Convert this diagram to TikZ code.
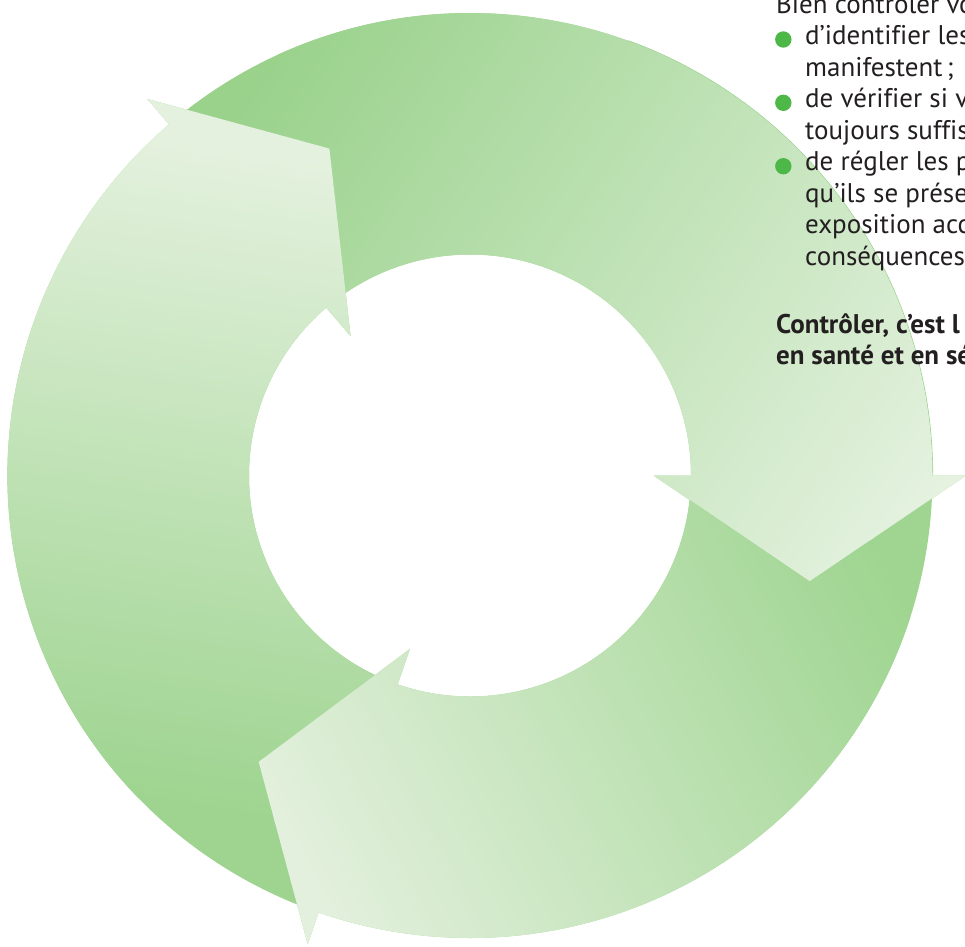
\documentclass[tikz,border=0pt]{standalone}
\usepackage{fontspec}
\setmainfont{PT Sans}[Ligatures={NoCommon}]
\definecolor{txtc}{HTML}{231F20}
\definecolor{bulc}{HTML}{4DB848}
\definecolor{topD}{HTML}{9AD28C}
\definecolor{topL}{HTML}{E5F2E0}
\definecolor{lefD}{HTML}{9ED490}
\definecolor{lefL}{HTML}{E4F1DE}
\definecolor{botD}{HTML}{9FD591}
\definecolor{botL}{HTML}{E3F0DD}
\definecolor{sliver}{HTML}{96D188}
% #1 Tx, #2 Ty, #3 angle, #4 length, #5 dark, #6 light  (used inside a clipped scope)
\newcommand\gradpaint[6]{%
    \fill[#5] (-100,-100) rectangle (1100,1100);
    \shade[left color=#5,right color=#6,transform canvas={shift={(#1,#2)},rotate=#3}] (0,-1500) rectangle (#4,1500);
    \fill[#6,transform canvas={shift={(#1,#2)},rotate=#3}] (#4-1,-1500) rectangle (3000,1500);}
\tikzset{
  txt/.style={anchor=base west, inner sep=0pt, text=txtc, font=\fontsize{27}{31.5}\selectfont},
  txtb/.style={txt, font=\fontsize{27}{31.5}\selectfont\bfseries},
  bullet/.style={circle, fill=bulc, inner sep=0pt, minimum size=16.4pt}
}
\begin{document}
\begin{tikzpicture}[x=1pt,y=-1pt]
\useasboundingbox (0,0) rectangle (965,946);
\clip (0,0) rectangle (965,946);
\coordinate (C) at (470,475.5);
\def\ri{221}\def\ro{462.5}
% thin darker edge along outer rim of top arrow
\draw[sliver, line width=1.2] ([shift={(C)}]-70:\ro) arc[start angle=-70,end angle=0,radius=\ro];
% top arrow (tail 129.6 deg, head at 0 deg)
\begin{scope}
  \clip ([shift={(C)}]-129.6:\ro) arc[start angle=-129.6,end angle=0,radius=\ro]
     -- ([shift={(C)}]0:496) -- ([shift={(C)}]17.33:355.9) -- ([shift={(C)}]0:183.5)
     -- ([shift={(C)}]0:\ri) arc[start angle=0,end angle=-129.6,radius=\ri] -- cycle;
  \gradpaint{240}{110}{-34.29}{798.8}{topD}{topL}
\end{scope}
% left arrow (tail 249.9 deg, head at 130.6 deg)
\begin{scope}
  \clip ([shift={(C)}]-249.9:\ro) arc[start angle=-249.9,end angle=-130.6,radius=\ro]
     -- ([shift={(C)}]-130.6:496) -- ([shift={(C)}]-113.27:355.9) -- ([shift={(C)}]-130.6:183.5)
     -- ([shift={(C)}]-130.6:\ri) arc[start angle=-130.6,end angle=-249.9,radius=\ri] -- cycle;
  \gradpaint{150}{800}{81.25}{657.6}{lefD}{lefL}
\end{scope}
% bottom arrow (tail -1 deg, head at 250.9 deg), kept out of the top arrow's head
\begin{scope}[even odd rule]
  \clip (-100,-100) rectangle (1100,1100)
     ([shift={(C)}]0:496) -- ([shift={(C)}]17.33:355.9) -- ([shift={(C)}]0:183.5) -- cycle;
  \clip ([shift={(C)}]-359:\ro) arc[start angle=-359,end angle=-250.9,radius=\ro]
     -- ([shift={(C)}]-250.9:496) -- ([shift={(C)}]-233.57:355.9) -- ([shift={(C)}]-250.9:183.5)
     -- ([shift={(C)}]-250.9:\ri) arc[start angle=-250.9,end angle=-359,radius=\ri] -- cycle;
  \gradpaint{880}{560}{-151.88}{657.6}{botD}{botL}
\end{scope}
% text
\node[txt] (l0) at (776,13) {Bien contrôler vo};
\node[bullet] (b1) at (783.3,39.5) {};
\node[txt] (l1) at (805,44.5) {d’identifier les};
\node[txt] (l2) at (805,76) {manifestent\,;};
\node[bullet] (b2) at (783.3,102.8) {};
\node[txt] (l3) at (805,107.5) {de vérifier si v};
\node[txt] (l4) at (805,139) {toujours suffis};
\node[bullet] (b3) at (783.3,166.2) {};
\node[txt] (l5) at (805,170.5) {de régler les p};
\node[txt] (l6) at (805,202) {qu’ils se prése};
\node[txt] (l7) at (805,233.5) {exposition acc};
\node[txt] (l8) at (805,265) {conséquences};
\node[txtb] (l9) at (776,333) {Contrôler, c’est l};
\node[txtb] (l10) at (776,364) {en santé et en sé};
\end{tikzpicture}
\end{document}
